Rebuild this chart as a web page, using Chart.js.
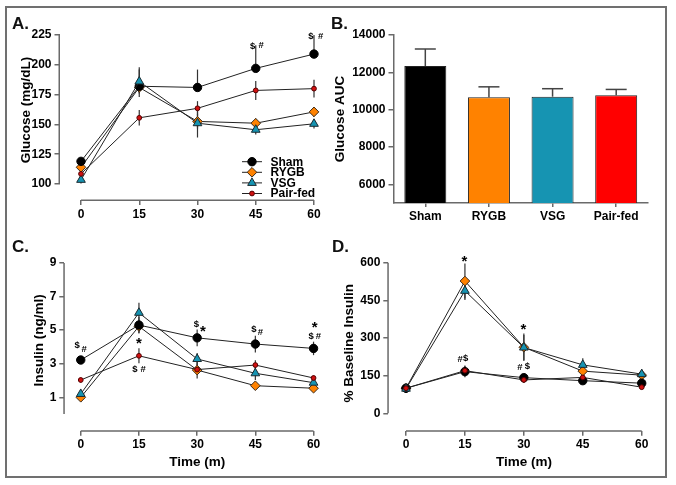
<!DOCTYPE html>
<html><head><meta charset="utf-8">
<script src="https://cdn.jsdelivr.net/npm/chart.js@4.4.1/dist/chart.umd.min.js"></script>
<style>
html,body{margin:0;padding:0;background:#fff;}
body{width:676px;height:485px;position:relative;overflow:hidden;font-family:"Liberation Sans",Arial,sans-serif;}
canvas{position:absolute;}
.frame{position:absolute;left:5px;top:6px;width:662px;height:472px;box-sizing:border-box;border:2px solid #707070;}
.plabel{position:absolute;font-weight:bold;font-size:17px;line-height:17px;color:#111;}
</style></head><body>
<div class="frame"></div>
<canvas id="cA" width="336" height="240" style="left:0px;top:0px"></canvas>
<canvas id="cB" width="345" height="240" style="left:326px;top:0px"></canvas>
<canvas id="cC" width="336" height="240" style="left:0px;top:240px"></canvas>
<canvas id="cD" width="345" height="240" style="left:326px;top:240px"></canvas>
<div class="plabel" style="left:12px;top:15px">A.</div>
<div class="plabel" style="left:331px;top:15px">B.</div>
<div class="plabel" style="left:12px;top:238px">C.</div>
<div class="plabel" style="left:332px;top:238px">D.</div>
<script>
// ---------------- DATA ----------------
const timeTicks = [0, 15, 30, 45, 60];
const groups = ['Sham', 'RYGB', 'VSG', 'Pair-fed'];

// A. Glucose (mg/dL)
const glucoseTicks = [100, 125, 150, 175, 200, 225];
const glucoseSham = [119, 182, 181, 197, 209];
const glucoseRYGB = [114, 181, 152.5, 151, 160.5];
const glucoseVSG = [103.5, 186, 151, 145.5, 150.5];
const glucosePairFed = [108.5, 155.5, 163.5, 178.5, 180];
const glucoseShamErr = [2, 16, 15, 19.5, 16];
const glucoseRYGBErr = [3, 8, 6, 4, 4];
const glucoseVSGErr = [3, 10, 12, 4, 4];
const glucosePairFedErr = [2, 6.5, 6, 8, 7.5];
const glucoseMarks = [['$', 44.2, 215.8], ['#', 46.4, 216.6], ['$', 59.2, 224.2], ['#', 61.7, 224.2]];

// B. Glucose AUC
const aucTicks = [6000, 8000, 10000, 12000, 14000];
const aucValues = [12340, 10662, 10695, 10770];
const aucErr = [910, 561, 428, 314];

// C. Insulin (ng/ml)
const insulinTicks = [1, 3, 5, 7, 9];
const insulinSham = [3.22, 5.3, 4.54, 4.17, 3.91];
const insulinRYGB = [1.0, 5.22, 2.62, 1.69, 1.54];
const insulinVSG = [1.2, 6.03, 3.28, 2.43, 1.87];
const insulinPairFed = [2.03, 3.47, 2.65, 2.92, 2.15];
const insulinShamErr = [0.15, 0.5, 0.5, 0.5, 0.4];
const insulinRYGBErr = [0.1, 0.4, 0.5, 0.15, 0.1];
const insulinVSGErr = [0.1, 0.6, 0.35, 0.4, 0.2];
const insulinPairFedErr = [0.15, 0.45, 0.3, 0.28, 0.15];
const insulinMarks = [['$', -0.94, 4.11], ['#', 0.86, 3.91], ['*', 15.0, 4.37], ['$', 13.97, 2.73], ['#', 16.07, 2.73],
  ['$', 29.8, 5.40], ['*', 31.5, 5.10], ['$', 44.6, 5.10], ['#', 46.3, 4.90], ['*', 60.26, 5.36], ['$', 59.4, 4.70], ['#', 61.27, 4.67]];

// D. % Baseline Insulin
const pctTicks = [0, 150, 300, 450, 600];
const pctSham = [100, 166, 142, 130, 120];
const pctRYGB = [100, 527, 263, 168, 152];
const pctVSG = [98, 488, 262, 193, 156];
const pctPairFed = [100, 170, 133, 143, 104];
const pctShamErr = [0, 22, 12, 15, 12];
const pctRYGBErr = [0, 70, 55, 20, 20];
const pctVSGErr = [0, 37, 50, 26, 20];
const pctPairFedErr = [0, 20, 12, 12, 8];
const pctMarks = [['*', 14.84, 617.5], ['#', 13.75, 219], ['$', 15.2, 224], ['*', 29.86, 348], ['#', 29.0, 186], ['$', 30.9, 192]];

// ---------------- STYLE ----------------
const FONT = "'Liberation Sans', Arial, sans-serif";
const AX = '#6a6a6a';
const ORANGE = '#FF8200', TEAL = '#1694B2', RED = '#FF0000';
Chart.defaults.font.family = FONT;
Chart.defaults.color = '#000';
Chart.defaults.animation = false;

const seriesStyle = [
  {label: 'Sham', pointStyle: 'circle', pointRadius: 4.2, pointBackgroundColor: '#000', pointBorderColor: '#000', order: 3},
  {label: 'RYGB', pointStyle: 'rectRot', pointRadius: 4.8, pointBackgroundColor: ORANGE, pointBorderColor: '#3a2a1a', order: 4},
  {label: 'VSG', pointStyle: 'triangle', pointRadius: 5, pointBackgroundColor: TEAL, pointBorderColor: '#1a2a30', order: 2},
  {label: 'Pair-fed', pointStyle: 'circle', pointRadius: 2.4, pointBackgroundColor: '#d01010', pointBorderColor: '#550000', order: 1}
];

function lineDatasets(seriesList, errList, dirs) {
  return seriesList.map((vals, k) => Object.assign({}, seriesStyle[k], {
    data: vals.map((v, i) => ({x: timeTicks[i], y: v})),
    borderColor: '#222', borderWidth: 1, pointBorderWidth: 1, tension: 0, fill: false,
    errs: errList[k], errDir: dirs[k], clip: false
  }));
}

const errPlugin = {
  id: 'errbars',
  beforeDatasetsDraw(chart) {
    const ctx = chart.ctx;
    chart.data.datasets.forEach((ds, di) => {
      if (!ds.errs) return;
      const meta = chart.getDatasetMeta(di);
      const ys = chart.scales[meta.yAxisID];
      ctx.save();
      ctx.strokeStyle = ds.errColor || '#333';
      ctx.lineWidth = ds.errWidth || 1.2;
      meta.data.forEach((el, i) => {
        const raw = ds.data[i];
        const val = typeof raw === 'object' ? raw.y : raw;
        const e = ds.errs[i];
        if (!e) return;
        const up = ds.errDir !== 'down' ? e : 0;
        const dn = ds.errDir !== 'up' ? e : 0;
        const x = el.x;
        const y1 = ys.getPixelForValue(val + up), y2 = ys.getPixelForValue(val - dn);
        ctx.beginPath(); ctx.moveTo(x, y1); ctx.lineTo(x, y2); ctx.stroke();
        if (ds.errCap) { ctx.beginPath(); ctx.moveTo(x - ds.errCap, y1); ctx.lineTo(x + ds.errCap, y1); ctx.stroke(); }
      });
      ctx.restore();
    });
  }
};

const axisPlugin = {
  id: 'detachedAxes',
  beforeDatasetsDraw(chart, args, opts) {
    if (!opts || !opts.yRange) return;
    const {ctx, chartArea} = chart;
    const xs = chart.scales.x, ys = chart.scales.y;
    ctx.save(); ctx.strokeStyle = AX; ctx.lineWidth = 1.5;
    ctx.beginPath();
    ctx.moveTo(chartArea.left - 0.25, ys.getPixelForValue(opts.yRange[0]));
    ctx.lineTo(chartArea.left - 0.25, ys.getPixelForValue(opts.yRange[1]));
    ctx.moveTo(xs.getPixelForValue(opts.xRange[0]), chartArea.bottom + 0.25);
    ctx.lineTo(xs.getPixelForValue(opts.xRange[1]), chartArea.bottom + 0.25);
    ctx.stroke(); ctx.restore();
  }
};

const marksPlugin = {
  id: 'marks',
  afterDatasetsDraw(chart, args, opts) {
    if (!opts || !opts.items) return;
    const ctx = chart.ctx, xs = chart.scales.x, ys = chart.scales.y;
    ctx.save(); ctx.fillStyle = '#000'; ctx.textAlign = 'center'; ctx.textBaseline = 'alphabetic';
    opts.items.forEach(([t, x, y]) => {
      const star = t === '*';
      const size = star ? 15 : 9.5;
      ctx.font = `bold ${size}px ${FONT}`;
      ctx.fillText(t, xs.getPixelForValue(x), ys.getPixelForValue(y) + (star ? 0.52 : 0.36) * size);
    });
    ctx.restore();
  }
};

const legendPlugin = {
  id: 'boxLegend',
  afterDraw(chart, args, opts) {
    if (!opts || !opts.x) return;
    const ctx = chart.ctx;
    chart.data.datasets.forEach((ds, i) => {
      const y = opts.y + i * opts.dy;
      ctx.save();
      ctx.strokeStyle = '#222'; ctx.lineWidth = 1;
      ctx.beginPath(); ctx.moveTo(opts.x, y); ctx.lineTo(opts.x + opts.len, y); ctx.stroke();
      ctx.fillStyle = ds.pointBackgroundColor; ctx.strokeStyle = ds.pointBorderColor; ctx.lineWidth = 1;
      Chart.helpers.drawPoint(ctx, {pointStyle: ds.pointStyle, radius: ds.pointRadius, rotation: 0, borderWidth: 1}, opts.x + opts.len / 2, y);
      ctx.fillStyle = '#000'; ctx.font = `bold 12px ${FONT}`; ctx.textBaseline = 'middle'; ctx.textAlign = 'left';
      ctx.fillText(ds.label, opts.textX, y + 0.5);
      ctx.restore();
    });
  }
};

const plainNum = v => String(v);

function yScale(min, max, ticks, title, width) {
  return {
    type: 'linear', min, max,
    afterBuildTicks: s => { s.ticks = ticks.map(v => ({value: v})); },
    afterFit: s => { s.width = width; },
    grid: {display: true, drawOnChartArea: false, drawTicks: true, tickLength: 5, color: AX, lineWidth: 1.5},
    border: {display: false},
    ticks: {font: {size: 12, weight: 'bold'}, color: '#000', padding: 3, callback: plainNum},
    title: {display: true, text: title, font: {size: 13.5, weight: 'bold'}, color: '#000', padding: {top: 4, bottom: 4}}
  };
}
function xScale(min, max, height, title) {
  return {
    type: 'linear', min, max,
    afterBuildTicks: s => { s.ticks = timeTicks.map(v => ({value: v})); },
    afterFit: s => { s.height = height; },
    grid: {display: true, drawOnChartArea: false, drawTicks: true, tickLength: 5, color: AX, lineWidth: 1.5},
    border: {display: false},
    ticks: {font: {size: 12, weight: 'bold'}, color: '#000', padding: 2, autoSkip: false, maxRotation: 0, callback: plainNum},
    title: {display: !!title, text: title || '', font: {size: 13.5, weight: 'bold'}, color: '#000', padding: {top: 4, bottom: 4}}
  };
}
const basePlugins = {legend: {display: false}, tooltip: {enabled: false}};

// ---------- A ----------
new Chart(document.getElementById('cA'), {
  type: 'line',
  data: {datasets: lineDatasets([glucoseSham, glucoseRYGB, glucoseVSG, glucosePairFed],
    [glucoseShamErr, glucoseRYGBErr, glucoseVSGErr, glucosePairFedErr], ['up', 'both', 'both', 'both'])},
  options: {
    responsive: false, devicePixelRatio: 1,
    layout: {padding: {left: 14.1, top: 20, right: 6, bottom: 0}},
    scales: {x: xScale(-5.537, 64.12, 40, null), y: yScale(86.58, 237.58, glucoseTicks, 'Glucose (mg/dL)', 45.4)},
    plugins: Object.assign({}, basePlugins, {
      detachedAxes: {yRange: [100, 225], xRange: [0, 60]},
      marks: {items: glucoseMarks},
      boxLegend: {x: 242, y: 161.7, dy: 10.6, len: 20, textX: 270.5}
    })
  },
  plugins: [axisPlugin, errPlugin, marksPlugin, legendPlugin]
});

// ---------- B ----------
new Chart(document.getElementById('cB'), {
  type: 'bar',
  data: {labels: groups, datasets: [{
    data: aucValues, backgroundColor: ['#000000', ORANGE, TEAL, RED], borderColor: '#222', borderWidth: 1,
    barPercentage: 0.66, categoryPercentage: 1, errs: aucErr, errDir: 'up', errCap: 10.5, errColor: '#444', errWidth: 1.5
  }]},
  options: {
    responsive: false, devicePixelRatio: 1,
    layout: {padding: {left: 2.6, top: 35, right: 23, bottom: 0}},
    scales: {
      x: {
        afterFit: s => { s.height = 37; },
        grid: {display: true, drawOnChartArea: false, offset: false, drawTicks: true, tickLength: 4, color: AX, lineWidth: 1.5},
        border: {display: true, color: AX, width: 1.5},
        ticks: {font: {size: 12, weight: 'bold'}, color: '#000', padding: 2, maxRotation: 0}
      },
      y: {
        min: 5000, max: 14000,
        afterBuildTicks: s => { s.ticks = aucTicks.map(v => ({value: v})); },
        afterFit: s => { s.width = 64.9; },
        grid: {display: true, drawOnChartArea: false, drawTicks: true, tickLength: 5, color: AX, lineWidth: 1.5},
        border: {display: true, color: AX, width: 1.5},
        ticks: {font: {size: 12, weight: 'bold'}, color: '#000', padding: 3, callback: plainNum},
        title: {display: true, text: 'Glucose AUC', font: {size: 13.5, weight: 'bold'}, color: '#000', padding: {top: 4, bottom: 4}}
      }
    },
    plugins: basePlugins
  },
  plugins: [errPlugin]
});

// ---------- C ----------
new Chart(document.getElementById('cC'), {
  type: 'line',
  data: {datasets: lineDatasets([insulinSham, insulinRYGB, insulinVSG, insulinPairFed],
    [insulinShamErr, insulinRYGBErr, insulinVSGErr, insulinPairFedErr], ['both', 'both', 'both', 'both'])},
  options: {
    responsive: false, devicePixelRatio: 1,
    layout: {padding: {left: 27.1, top: 10, right: 2, bottom: 5.9}},
    scales: {x: xScale(-4.24, 64.24, 43.4, 'Time (m)'), y: yScale(-0.987, 9.755, insulinTicks, 'Insulin (ng/ml)', 37.2)},
    plugins: Object.assign({}, basePlugins, {
      detachedAxes: {yRange: [0, 9], xRange: [0, 60]},
      marks: {items: insulinMarks}
    })
  },
  plugins: [axisPlugin, errPlugin, marksPlugin]
});

// ---------- D ----------
new Chart(document.getElementById('cD'), {
  type: 'line',
  data: {datasets: lineDatasets([pctSham, pctRYGB, pctVSG, pctPairFed],
    [pctShamErr, pctRYGBErr, pctVSGErr, pctPairFedErr], ['both', 'both', 'both', 'both'])},
  options: {
    responsive: false, devicePixelRatio: 1,
    layout: {padding: {left: 11.2, top: 16, right: 11.3, bottom: 5.9}},
    scales: {x: xScale(-4.506, 64.58, 43.4, 'Time (m)'), y: yScale(-69.3, 626.7, pctTicks, '% Baseline Insulin', 51.1)},
    plugins: Object.assign({}, basePlugins, {
      detachedAxes: {yRange: [0, 600], xRange: [0, 60]},
      marks: {items: pctMarks}
    })
  },
  plugins: [axisPlugin, errPlugin, marksPlugin]
});
</script>
</body></html>
